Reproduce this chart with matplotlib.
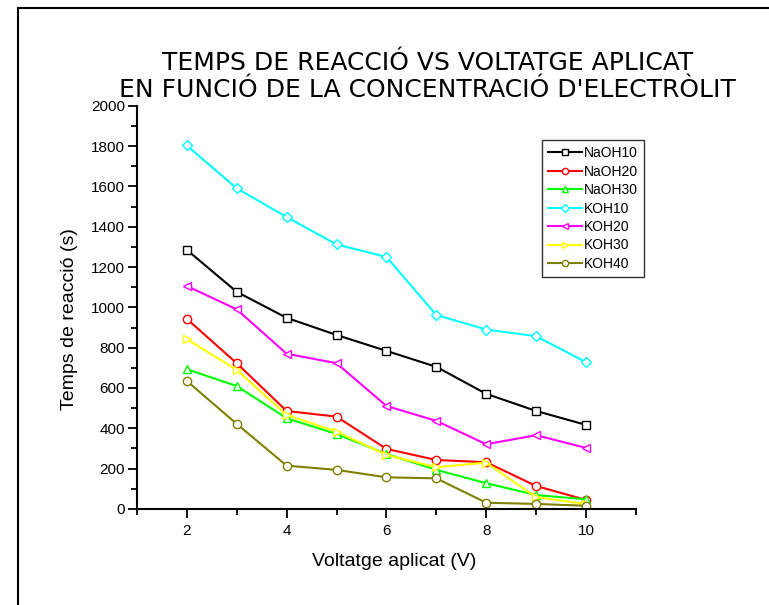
import matplotlib
matplotlib.use("Agg")
import matplotlib.pyplot as plt
from matplotlib.lines import Line2D
from matplotlib.ticker import MultipleLocator

plt.rcParams['font.family'] = ['Liberation Sans', 'DejaVu Sans']

voltage = [2, 3, 4, 5, 6, 7, 8, 9, 10]
naoh10 = [1285, 1077, 948, 863, 784, 705, 571, 486, 417]
naoh20 = [943, 723, 486, 458, 298, 243, 232, 114, 45]
naoh30 = [693, 610, 450, 372, 273, 194, 128, 69, 48]
koh10 = [1803, 1590, 1448, 1312, 1250, 962, 890, 857, 728]
koh20 = [1106, 990, 770, 723, 511, 437, 321, 366, 303]
koh30 = [842, 690, 466, 384, 268, 207, 230, 58, 25]
koh40 = [635, 422, 215, 194, 157, 152, 31, 25, 16]

series = [
    ("NaOH10", naoh10, "#000000", "s"),
    ("NaOH20", naoh20, "#ff0000", "o"),
    ("NaOH30", naoh30, "#00ff00", "^"),
    ("KOH10", koh10, "#00ffff", "D"),
    ("KOH20", koh20, "#ff00ff", "<"),
    ("KOH30", koh30, "#ffff00", ">"),
    ("KOH40", koh40, "#808000", "o"),
]

fig = plt.figure(figsize=(7.69, 6.05), dpi=100)
ax = fig.add_axes([0.178, 0.1587, 0.649, 0.6666])

for name, vals, col, mk in series:
    ms = 6
    if mk == "D":
        ms = 5.5
    ax.plot(voltage, vals, color=col, lw=1.5, marker=mk, ms=ms,
            mfc="white", mec=col, mew=1.0, label=name)

ax.set_xlim(1, 11)
ax.set_ylim(0, 2000)
ax.xaxis.set_major_locator(MultipleLocator(2))
ax.xaxis.set_minor_locator(MultipleLocator(1))
ax.yaxis.set_major_locator(MultipleLocator(200))
ax.yaxis.set_minor_locator(MultipleLocator(100))
ax.spines['top'].set_visible(False)
ax.spines['right'].set_visible(False)
for s in ('left', 'bottom'):
    ax.spines[s].set_linewidth(1.5)
ax.tick_params(which='major', direction='out', length=6.5, width=1.3, labelsize=11)
ax.tick_params(which='minor', direction='out', length=4, width=1.3)
ax.tick_params(axis='x', pad=4)
ax.tick_params(axis='y', pad=2)

ax.set_xlabel("Voltatge aplicat (V)", fontsize=14)
ax.set_ylabel("Temps de reacció (s)", fontsize=14)
ax.xaxis.set_label_coords(0.515, -0.11)
ax.yaxis.set_label_coords(-0.118, 0.471)

fig.text(0.556, 0.8736, "TEMPS DE REACCIÓ VS VOLTATGE APLICAT\nEN FUNCIÓ DE LA CONCENTRACIÓ D'ELECTRÒLIT",
         ha='center', va='center', fontsize=18, linespacing=1.2,
         family=['DejaVu Sans'])

leg = ax.legend(loc='upper left', bbox_to_anchor=(0.812, 0.915), fontsize=10,
                frameon=True, fancybox=False, edgecolor='black', handlelength=2.4,
                borderpad=0.45, labelspacing=0.32, handletextpad=0.15, borderaxespad=0,
                markerscale=0.75)
leg.get_frame().set_linewidth(1.0)

# outer border (top and left)
fig.add_artist(Line2D([18/769, 18/769], [0, 1 - 8/605], transform=fig.transFigure,
                      color='black', lw=1.5))
fig.add_artist(Line2D([18/769, 1], [1 - 8/605, 1 - 8/605], transform=fig.transFigure,
                      color='black', lw=1.5))

fig.savefig("out.png", dpi=100)
